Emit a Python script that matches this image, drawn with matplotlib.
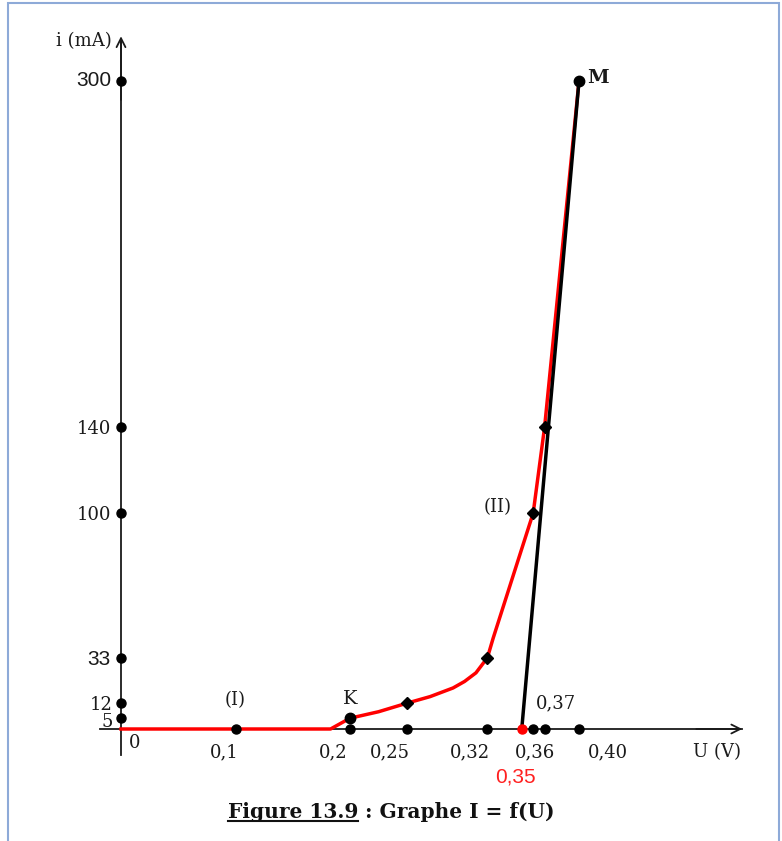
import numpy as np
import matplotlib
matplotlib.use("Agg")
import matplotlib.pyplot as plt
from matplotlib.patches import Rectangle

# curve I = f(U) (U in V, I in mA)
u_curve = [0, 0.1, 0.183, 0.2, 0.225, 0.25, 0.26, 0.27, 0.28, 0.29, 0.30, 0.31, 0.32, 0.325, 0.36, 0.37, 0.40]
i_curve = [0, 0, 0, 5, 8, 12, 13.5, 15, 17, 19, 22, 26, 33, 42, 100, 140, 300]

# tangent line (black) from the threshold 0.35 V up to M
u_tangent = [0.35, 0.40]
i_tangent = [0, 300]

# graduated points on the axes
u_ticks = [0.1, 0.2, 0.25, 0.32, 0.36, 0.37, 0.40]
u_tick_labels = ["0,1", "0,2", "0,25", "0,32", "0,36", "0,40"]
u_label_vals = [0.1, 0.2, 0.25, 0.32, 0.36, 0.40]
i_ticks = [5, 12, 33, 100, 140, 300]
i_tick_labels = ["5", "12", "33", "100", "140", "300"]

# marked points on the curve
u_diam = [0.25, 0.32, 0.36, 0.37]
i_diam = [12, 33, 100, 140]
u_dots = [0.2, 0.40]
i_dots = [5, 300]

W, H = 782, 841
fig = plt.figure(figsize=(W / 100, H / 100), dpi=100)
ax = fig.add_axes([0, 0, 1, 1])
ax.axis("off")

# pixel mapping of the original drawing: px = 121 + 1145*U ; py = 729 - 2.16*I
sx, x0 = 1145.0, 121.0
sy, y0 = 2.16, 729.0
ax.set_xlim(-x0 / sx, (W - x0) / sx)
ax.set_ylim((y0 - H) / sy, y0 / sy)

ink = "#1a1a1a"
serif = "DejaVu Serif"
sans = "Liberation Sans"
fs = 13

# frame (light blue border)
fig.patches.append(Rectangle((8 / W, -0.1), (779 - 8) / W, 1.1 - 3 / H,
                             transform=fig.transFigure, fill=False,
                             edgecolor="#8eaad8", lw=1.5))

# axes with arrows
ax.plot([-0.018, 0.542], [0, 0], color=ink, lw=1.3, zorder=1)
ax.annotate("", xy=(0.545, 0), xytext=(0.50, 0),
            arrowprops=dict(arrowstyle="->", color=ink, lw=1.3, mutation_scale=16))
ax.plot([0, 0], [-12, 318], color=ink, lw=1.3, zorder=1)
ax.annotate("", xy=(0, 322), xytext=(0, 290),
            arrowprops=dict(arrowstyle="->", color=ink, lw=1.3, mutation_scale=16))

# curve and tangent
ax.plot(u_curve, i_curve, color="#ff0000", lw=2.5, zorder=2, solid_joinstyle="round")
ax.plot(u_tangent, i_tangent, color="black", lw=2.5, zorder=3)

# points
ax.plot(u_ticks, [0] * len(u_ticks), "o", color="black", ms=6.5, zorder=4)
ax.plot([0] * len(i_ticks), i_ticks, "o", color="black", ms=6.5, zorder=4)
ax.plot([0.35], [0], "o", color="#ff0000", ms=6.5, zorder=5)
ax.plot(u_diam, i_diam, "D", color="black", ms=6.5, zorder=5)
ax.plot(u_dots, i_dots, "o", color="black", ms=7.5, zorder=5)

# x tick labels (offsets in pixels)
x_off = [-11, -17, -17, -17, 2, 29]
for u, lab, dx in zip(u_label_vals, u_tick_labels, x_off):
    ax.annotate(lab, (u, 0), xytext=(dx, -23), textcoords="offset pixels",
                ha="center", va="center", fontsize=fs, family=serif, color=ink)
ax.annotate("0,37", (0.37, 0), xytext=(11, 26), textcoords="offset pixels",
            ha="center", va="center", fontsize=fs, family=serif, color=ink)
ax.annotate("0,35", (0.35, 0), xytext=(-6, -48), textcoords="offset pixels",
            ha="center", va="center", fontsize=15, family=sans, color="#ff2020")
ax.annotate("0", (0, 0), xytext=(14, -14), textcoords="offset pixels",
            ha="center", va="center", fontsize=fs, family=serif, color=ink)

# y tick labels
y_off = [-4, -2, -2, -2, -2, 0]
for i, lab, dy in zip(i_ticks, i_tick_labels, y_off):
    if lab in ("300", "33"):
        ax.annotate(lab, (0, i), xytext=(-10, dy), textcoords="offset pixels",
                    ha="right", va="center", fontsize=15, family=sans, color=ink)
    else:
        ax.annotate(lab, (0, i), xytext=(-8 if lab in ("12", "5") else -10, dy),
                    textcoords="offset pixels", ha="right", va="center",
                    fontsize=fs, family=serif, color=ink)

# axis titles and point names
def px(x, y):
    return x / W, 1 - y / H

fig.text(*px(112, 41), "i (mA)", ha="right", va="center", fontsize=fs, family=serif, color=ink)
fig.text(*px(717, 752), "U (V)", ha="center", va="center", fontsize=fs, family=serif, color=ink)
ax.annotate("(I)", (0.1, 0), xytext=(0, 29), textcoords="offset pixels",
            ha="center", va="center", fontsize=fs, family=serif, color=ink)
ax.annotate("K", (0.2, 5), xytext=(0, 19), textcoords="offset pixels",
            ha="center", va="center", fontsize=14, family=serif, color=ink)
ax.annotate("(II)", (0.36, 100), xytext=(-36, 6), textcoords="offset pixels",
            ha="center", va="center", fontsize=fs, family=serif, color=ink)
ax.annotate("M", (0.40, 300), xytext=(19, 3), textcoords="offset pixels",
            ha="center", va="center", fontsize=14, family=serif, color=ink, weight="bold")

# caption with underlined "Figure 13.9"
cx, cy = px(228, 812)
t1 = fig.text(cx, cy, "Figure 13.9", ha="left", va="center", fontsize=14.5,
              family=serif, weight="bold", color="#111111")
fig.canvas.draw()
bb = t1.get_window_extent().transformed(fig.transFigure.inverted())
fig.text(bb.x1, cy, " : Graphe I = f(U)", ha="left", va="center", fontsize=14.5,
         family=serif, weight="bold", color="#111111")
fig.lines.append(plt.Line2D([bb.x0, bb.x1], [bb.y0 + 1 / H, bb.y0 + 1 / H],
                            transform=fig.transFigure, color="#111111", lw=1.5))

fig.savefig("out.png", dpi=100)
